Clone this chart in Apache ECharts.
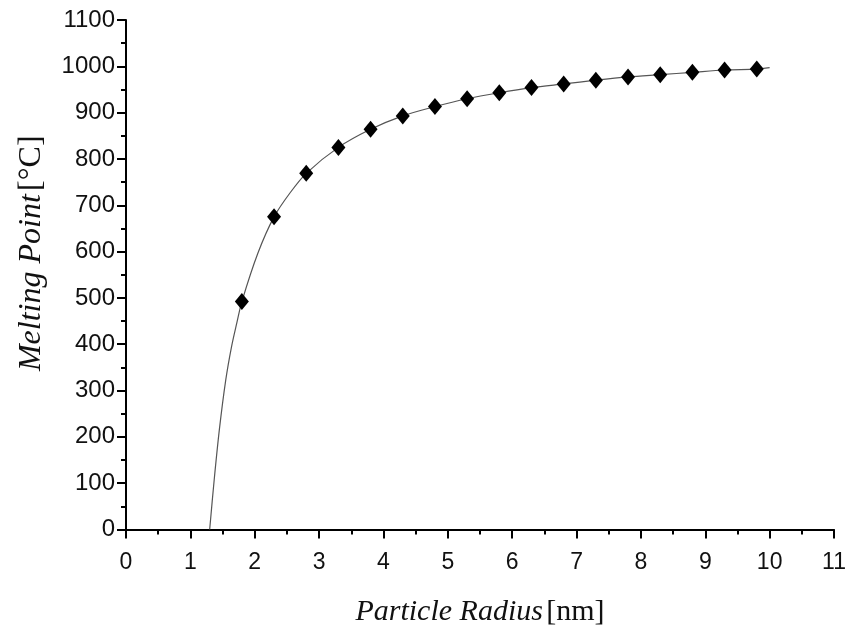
<!DOCTYPE html>
<html>
<head>
<meta charset="utf-8">
<script src="https://cdn.jsdelivr.net/npm/echarts@6/dist/echarts.min.js"></script>
<style>html,body{margin:0;padding:0;background:#fff}#c{width:852px;height:630px}</style>
</head>
<body>
<div id="c"></div>
<script>
// measured points
const radius = [1.8, 2.3, 2.8, 3.3, 3.8, 4.3, 4.8, 5.3, 5.8, 6.3, 6.8, 7.3, 7.8, 8.3, 8.8, 9.3, 9.8];
const meltPoint = [492, 675, 769, 825, 864, 893, 913, 930, 943, 954, 962, 970, 977, 982, 987, 992, 994];
// fitted curve
const curveX = [1.30, 1.37, 1.45, 1.55, 1.64, 1.72, 1.8, 2.05, 2.3, 2.55, 2.8, 3.3, 3.8, 4.3, 4.8, 5.3, 5.8, 6.3, 6.8, 7.3, 7.8, 8.3, 8.8, 9.3, 9.8, 10.0];
const curveY = [0, 107, 215, 323, 395, 445, 492, 597, 675, 727, 769, 825, 864, 893, 913, 930, 943, 954, 962, 970, 977, 982, 987, 992, 994, 997];
const xTicks = ['0','1','2','3','4','5','6','7','8','9','10','11'];
const yTicks = ['0','100','200','300','400','500','600','700','800','900','1000','1100'];

const chart = echarts.init(document.getElementById('c'), null, {renderer: 'canvas'});
const labelFont = {fontFamily: 'Liberation Sans', color: '#111'};
function nameRich(size) {
  return {
    i: {fontFamily: 'Liberation Serif', fontStyle: 'italic', fontSize: size, color: '#111'},
    n: {fontFamily: 'Liberation Serif', fontSize: size, color: '#111'}
  };
}
chart.setOption({
  animation: false,
  backgroundColor: '#fff',
  grid: {left: 126, right: 18, top: 20, bottom: 100.5, containLabel: false, outerBoundsMode: 'none'},
  xAxis: {
    type: 'value', min: 0, max: 11, interval: 1,
    axisLine: {show: true, onZero: false, lineStyle: {color: '#000', width: 2}},
    axisTick: {show: true, inside: false, length: 9, lineStyle: {color: '#000', width: 2}},
    minorTick: {show: true, splitNumber: 2, length: 5, lineStyle: {color: '#000', width: 2}},
    splitLine: {show: false},
    axisLabel: Object.assign({margin: 22, fontSize: 23, formatter: v => xTicks[Math.round(v)]}, labelFont),
    name: '{i|Particle Radius} {n|[nm]}',
    nameLocation: 'middle', nameGap: 68,
    nameTextStyle: {rich: nameRich(30)}
  },
  yAxis: {
    type: 'value', min: 0, max: 1100, interval: 100,
    axisLine: {show: true, lineStyle: {color: '#000', width: 2}},
    axisTick: {show: true, inside: false, length: 9, lineStyle: {color: '#000', width: 2}},
    minorTick: {show: true, splitNumber: 2, length: 5, lineStyle: {color: '#000', width: 2}},
    splitLine: {show: false},
    axisLabel: Object.assign({margin: 11, fontSize: 24, formatter: v => yTicks[Math.round(v / 100)]}, labelFont),
    name: '{i|Melting Point} {n|[°C]}',
    nameLocation: 'middle', nameGap: 78,
    nameTextStyle: {padding: [0, 0, 0, 43], rich: nameRich(32)}
  },
  series: [
    {
      type: 'line', data: curveX.map((x, i) => [x, curveY[i]]),
      smooth: 0.3, showSymbol: false, symbol: 'none',
      lineStyle: {color: '#555', width: 1.2}, z: 2
    },
    {
      type: 'scatter', data: radius.map((x, i) => [x, meltPoint[i]]),
      symbol: 'diamond', symbolSize: [14, 17],
      itemStyle: {color: '#000', opacity: 1}, z: 3
    }
  ]
});
</script>
</body>
</html>
